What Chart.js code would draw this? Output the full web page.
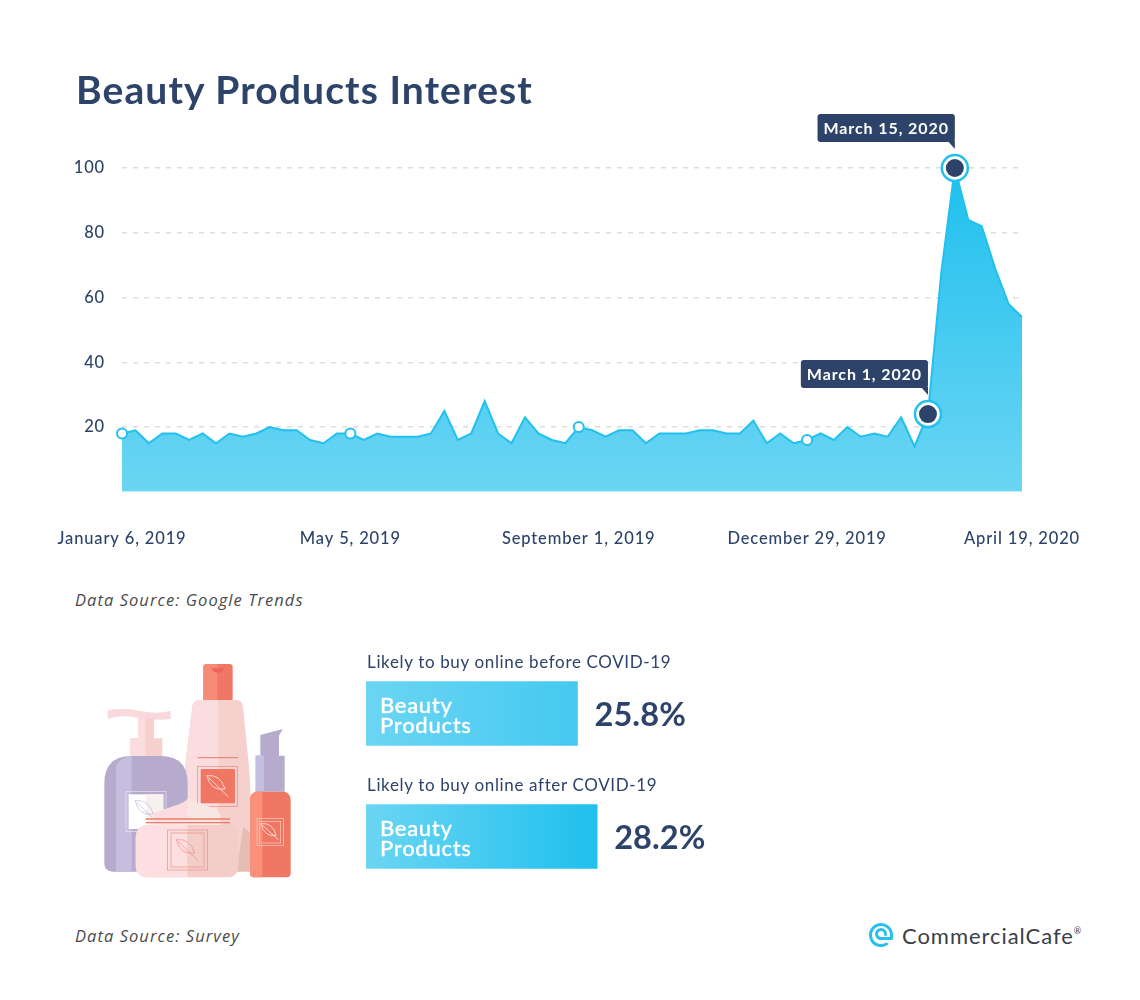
<!DOCTYPE html>
<html>
<head>
<meta charset="utf-8">
<title>Beauty Products Interest</title>
<script src="https://cdn.jsdelivr.net/npm/chart.js@4"></script>
<style>
  html, body { margin: 0; padding: 0; background: #fff; }
  #page { position: relative; width: 1140px; height: 1000px; overflow: hidden; font-family: Lato, sans-serif; color: #2d4369; }
  #page > * { position: absolute; }
  #trend-chart { left: 0; top: 0; }
  #bar-chart { left: 366px; top: 652px; }
  h1 { margin: 0; left: 76px; top: 64px; font-size: 39px; line-height: 50px; font-weight: 700; letter-spacing: 1.1px; white-space: nowrap; }
  .source { left: 75px; font-family: "Open Sans", sans-serif; font-size: 16.5px; line-height: 20px; font-style: italic; color: #4a4a4a; letter-spacing: 1.05px; white-space: nowrap; }
  .question { left: 367px; font-size: 17px; line-height: 20px; letter-spacing: 0.65px; white-space: nowrap; }
  .bar-name { left: 380px; font-size: 22px; line-height: 20.5px; font-weight: 500; color: #fff; letter-spacing: 0.7px; -webkit-text-stroke: 0.3px #fff; }
  .pct { font-size: 32.5px; line-height: 40px; font-weight: 700; letter-spacing: 0.1px; white-space: nowrap; }
  #logo-text { left: 902px; top: 922px; font-size: 22px; line-height: 28px; color: #3b3f47; letter-spacing: 0.95px; white-space: nowrap; }
  #logo-text sup { font-size: 9px; line-height: 0; vertical-align: 10px; }
</style>
</head>
<body>
<div id="page">
  <canvas id="trend-chart" width="1140" height="560"></canvas>
  <h1>Beauty Products Interest</h1>
  <div class="source" style="top:590px">Data Source: Google Trends</div>

  <!-- bottles -->
  <svg style="left:80px;top:650px" width="240" height="240" viewBox="0 0 720 720">
    <!-- tall bottle -->
    <path d="M370 52q0-10 10-10h68q10 0 10 10v100h-88z" fill="#f07764"/>
    <path d="M370 52q0-10 10-10h32v110h-42z" fill="#f58a77"/>
    <path d="M395 55h37q-4 13-18 13t-19-13z" fill="#ec6458"/>
    <path d="M358 150h112q16 0 19 20l18 180 18 310h-210v-310l22-180q3-20 21-20z" fill="#f5d0cc"/>
    <path d="M358 150h57v510h-110l10-310 22-180q3-20 21-20z" fill="#fbdcdf"/>
    <path d="M490 530l40 40v95h-60z" fill="#e5bcb4"/>
    <path d="M353 323h121" stroke="#ee7a68" stroke-width="3"/>
    <rect x="353" y="349" width="120" height="120" fill="none" stroke="#f0877a" stroke-width="2"/>
    <rect x="362" y="357" width="103" height="103" rx="3" fill="#f07764"/>
    <!-- pump bottle -->
    <path d="M83 180q50-8 100 3t89-1v25q-50 6-100-4t-89 4z" fill="#f9d9dc"/>
    <path d="M175 205h47v60h25v53h-97v-53h25z" fill="#f5d0cc"/>
    <path d="M175 205h22v113h-47v-53h25z" fill="#fbdcdf"/>
    <path d="M73 400q0-82 82-82h86q82 0 82 82v265h-225q-25 0-25-25z" fill="#b6abcc"/>
    <path d="M108 345q20-24 47-27v347h-47z" fill="#c5bede"/>
    <rect x="138" y="424" width="120" height="121" fill="none" stroke="#e9e6f0" stroke-width="2"/>
    <rect x="146" y="433" width="104" height="104" fill="#fff"/>
    <rect x="198" y="433" width="52" height="104" fill="#f6f1ee"/>
    <!-- jar -->
    <path d="M222 490q40-15 70-25t30-20q10 10 50 20t50 30v30h-200z" fill="#f8e6e3"/>
    <path d="M222 490q40-15 70-25t30-20v60h-100z" fill="#fbdcdf"/>
    <path d="M167 565q0-40 40-40h233q35 0 35 40v82q0 35-35 35h-233q-40 0-40-35z" fill="#f4cdc8"/>
    <path d="M167 565q0-40 40-40h115v157h-115q-40 0-40-35z" fill="#fddee1"/>
    <path d="M197 507h253M197 518h253" stroke="#ee7a68" stroke-width="4"/>
    <rect x="262" y="540" width="121" height="120" fill="none" stroke="#ec8d82" stroke-width="2"/>
    <rect x="273" y="549" width="99" height="102" fill="none" stroke="#ec8d82" stroke-width="2"/>
    <!-- small bottle -->
    <path d="M541 255l67-18-11 20v60h17v108h-87v-108h14z" fill="#b6abcc"/>
    <path d="M527 316h25v109h-25z" fill="#c5bede"/>
    <path d="M527 425h87q18 6 18 25v220q0 12-12 12h-98q-12 0-12-12v-220q0-19 17-25z" fill="#f07764"/>
    <path d="M527 425h20v257h-25q-12 0-12-12v-220q0-19 17-25z" fill="#f8907c"/>
    <rect x="531" y="506" width="79" height="81" fill="none" stroke="#fbcfc6" stroke-width="2"/>
    <rect x="539" y="514" width="63" height="65" fill="none" stroke="#fbcfc6" stroke-width="2"/>
    <!-- leaves -->
    <path d="M380 377q42-5 55 40-42 8-55-40zM385 382l60 58" fill="none" stroke="#fff" stroke-width="2"/>
    <path d="M165 452q42-5 55 40-42 8-55-40zM170 457l50 48" fill="none" stroke="#b9b4d6" stroke-width="2"/>
    <path d="M289 569q42-5 55 40-42 8-55-40zM294 574l60 58" fill="none" stroke="#ec8d82" stroke-width="2"/>
    <path d="M543 521q36-4 45 35-36 6-45-35zM548 526l48 44" fill="none" stroke="#fff" stroke-width="2"/>
  </svg>

  <canvas id="bar-chart" width="400" height="246"></canvas>
  <div class="source" style="top:926px">Data Source: Survey</div>

  <!-- logo -->
  <svg style="left:869px;top:923px" width="24" height="24" viewBox="0 0 24 24" fill="none" stroke="#29c0ee" stroke-width="3" stroke-linecap="round" stroke-linejoin="round">
    <path d="M17.5 21A10.5 10.5 0 1 1 22.5 12v3.5H12A4.5 4.5 0 1 1 16.5 11.5"/>
  </svg>
  <div id="logo-text">CommercialCafe<sup>®</sup></div>
</div>

<script>
/* ---------- data ---------- */
const weeks = [
  'January 6, 2019', 'January 13, 2019', 'January 20, 2019', 'January 27, 2019', 'February 3, 2019',
  'February 10, 2019', 'February 17, 2019', 'February 24, 2019', 'March 3, 2019', 'March 10, 2019',
  'March 17, 2019', 'March 24, 2019', 'March 31, 2019', 'April 7, 2019', 'April 14, 2019',
  'April 21, 2019', 'April 28, 2019', 'May 5, 2019', 'May 12, 2019', 'May 19, 2019',
  'May 26, 2019', 'June 2, 2019', 'June 9, 2019', 'June 16, 2019', 'June 23, 2019',
  'June 30, 2019', 'July 7, 2019', 'July 14, 2019', 'July 21, 2019', 'July 28, 2019',
  'August 4, 2019', 'August 11, 2019', 'August 18, 2019', 'August 25, 2019', 'September 1, 2019',
  'September 8, 2019', 'September 15, 2019', 'September 22, 2019', 'September 29, 2019', 'October 6, 2019',
  'October 13, 2019', 'October 20, 2019', 'October 27, 2019', 'November 3, 2019', 'November 10, 2019',
  'November 17, 2019', 'November 24, 2019', 'December 1, 2019', 'December 8, 2019', 'December 15, 2019',
  'December 22, 2019', 'December 29, 2019', 'January 5, 2020', 'January 12, 2020', 'January 19, 2020',
  'January 26, 2020', 'February 2, 2020', 'February 9, 2020', 'February 16, 2020', 'February 23, 2020',
  'March 1, 2020', 'March 8, 2020', 'March 15, 2020', 'March 22, 2020', 'March 29, 2020',
  'April 5, 2020', 'April 12, 2020', 'April 19, 2020'
];
const interest = [
  18, 19, 15, 18, 18, 16, 18, 15, 18, 17,
  18, 20, 19, 19, 16, 15, 18, 18, 16, 18,
  17, 17, 17, 18, 25, 16, 18, 28, 18, 15,
  23, 18, 16, 15, 20, 19, 17, 19, 19, 15,
  18, 18, 18, 19, 19, 18, 18, 22, 15, 18,
  15, 16, 18, 16, 20, 17, 18, 17, 23, 14,
  24, 68, 100, 84, 82, 69, 58, 54
];
const tickWeeks = ['January 6, 2019', 'May 5, 2019', 'September 1, 2019', 'December 29, 2019', 'April 19, 2020'];
const openMarkers = ['January 6, 2019', 'May 5, 2019', 'September 1, 2019', 'December 29, 2019'];
const calloutWeeks = ['March 1, 2020', 'March 15, 2020'];

const barNames = ['Likely to buy online before COVID-19', 'Likely to buy online after COVID-19'];
const barValues = [25.8, 28.2];
const barEndColors = ['#45c9f1', '#1fc0ee'];

/* ---------- helpers ---------- */
const NAVY = '#2d4369';
const CYAN = '#22c0ee';
const FONT = 'Lato, sans-serif';

function areaFill(context) {
  const { ctx, chartArea } = context.chart;
  if (!chartArea) return '#4ac9f1';
  const grad = ctx.createLinearGradient(0, chartArea.top, 0, chartArea.bottom);
  grad.addColorStop(0, '#1fc0ee');
  grad.addColorStop(1, '#6bd5f3');
  return grad;
}

function barFill(context) {
  const { ctx, chartArea, scales } = context.chart;
  if (!chartArea) return '#4ac9f1';
  const i = context.dataIndex;
  const grad = ctx.createLinearGradient(0, 0, scales.x.getPixelForValue(barValues[i]), 0);
  grad.addColorStop(0, '#6bd5f3');
  grad.addColorStop(1, barEndColors[i]);
  return grad;
}

function markerRadius(context) {
  const week = weeks[context.dataIndex];
  if (calloutWeeks.includes(week)) return 13;
  return openMarkers.includes(week) ? 5 : 0;
}

/* letter spacing for the axis labels, the canvas keeps it for the whole draw */
const spacingPlugin = {
  id: 'spacing',
  beforeDraw(chart) { chart.ctx.letterSpacing = '0.85px'; }
};

/* small navy flag above the two highlighted weeks */
const calloutPlugin = {
  id: 'callouts',
  afterDatasetsDraw(chart) {
    const { ctx, scales } = chart;
    ctx.save();
    ctx.font = `700 16px ${FONT}`;
    ctx.letterSpacing = '0.9px';
    ctx.textBaseline = 'middle';
    calloutWeeks.forEach(week => {
      const i = weeks.indexOf(week);
      const px = scales.x.getPixelForValue(i);
      const py = scales.y.getPixelForValue(interest[i]);
      const w = ctx.measureText(week).width + 12;
      const h = 28;
      const bottom = py - 26;
      ctx.fillStyle = NAVY;
      ctx.beginPath();
      ctx.roundRect(px - w, bottom - h, w, h, 3);
      ctx.fill();
      ctx.beginPath();
      ctx.moveTo(px - 7, bottom - 1);
      ctx.lineTo(px, bottom - 1);
      ctx.lineTo(px, bottom + 7);
      ctx.closePath();
      ctx.fill();
      ctx.fillStyle = '#fff';
      ctx.textAlign = 'left';
      ctx.fillText(week, px - w + 6, bottom - h / 2 + 0.5);
    });
    ctx.restore();
  }
};

/* ---------- trend chart ---------- */
new Chart(document.getElementById('trend-chart'), {
  type: 'line',
  data: {
    labels: weeks,
    datasets: [
      {
        data: weeks.map((w, i) => calloutWeeks.includes(w) ? interest[i] : null),
        order: 0,
        showLine: false,
        pointRadius: 9,
        pointBackgroundColor: NAVY,
        pointBorderWidth: 0,
        clip: false
      },
      {
        data: interest,
        order: 1,
        fill: 'origin',
        backgroundColor: areaFill,
        borderColor: CYAN,
        borderWidth: 2,
        tension: 0,
        pointRadius: markerRadius,
        pointBackgroundColor: '#fff',
        pointBorderColor: CYAN,
        pointBorderWidth: c => calloutWeeks.includes(weeks[c.dataIndex]) ? 2.5 : 2,
        clip: false
      }
    ]
  },
  options: {
    responsive: false,
    animation: false,
    layout: { padding: { top: 168, right: 118, left: 0, bottom: 0 } },
    plugins: { legend: { display: false }, tooltip: { enabled: false } },
    scales: {
      x: {
        offset: false,
        border: { display: false },
        grid: { display: false },
        afterFit(s) { s.height = 68.25; s.paddingLeft = 0; s.paddingRight = 0; },
        ticks: {
          autoSkip: false,
          maxRotation: 0,
          padding: 29,
          color: NAVY,
          font: { family: FONT, size: 16.5, weight: '500' },
          callback(value) {
            const week = weeks[value];
            return tickWeeks.includes(week) ? week : null;
          }
        }
      },
      y: {
        min: 0,
        max: 100,
        border: { display: false, dash: [5, 6] },
        grid: {
          drawTicks: false,
          color: c => c.tick.value === 0 ? 'transparent' : '#dddddd',
          lineWidth: 1.5
        },
        afterFit(s) { s.width = 122; s.paddingTop = 0; s.paddingBottom = 0; },
        ticks: {
          stepSize: 20,
          padding: 17,
          color: NAVY,
          font: { family: FONT, size: 16.5, weight: '500' },
          callback: value => value === 0 ? '' : value
        }
      }
    }
  },
  plugins: [spacingPlugin, calloutPlugin]
});

/* ---------- survey bars ---------- */
const barChart = new Chart(document.getElementById('bar-chart'), {
  type: 'bar',
  data: {
    labels: barNames,
    datasets: [{ data: barValues, backgroundColor: barFill, barThickness: 64 }]
  },
  options: {
    responsive: false,
    animation: false,
    indexAxis: 'y',
    plugins: { legend: { display: false }, tooltip: { enabled: false } },
    scales: {
      x: { display: false, min: 0, max: 48.8 },
      y: { display: false }
    }
  }
});

// texts around the bars, placed from the chart's own scales
const page = document.getElementById('page');
function addText(cls, html, left, top) {
  const el = document.createElement('div');
  el.className = cls;
  el.innerHTML = html;
  if (left !== null) el.style.left = left + 'px';
  el.style.top = top + 'px';
  page.appendChild(el);
}
const canvasTop = 652;
barNames.forEach((name, i) => {
  const mid = canvasTop + barChart.scales.y.getPixelForValue(i);
  const end = 366 + barChart.scales.x.getPixelForValue(barValues[i]);
  addText('question', name, null, mid - 62);
  addText('bar-name', 'Beauty<br>Products', null, mid - 19);
  addText('pct', barValues[i].toFixed(1) + '%', end + 17, mid - 20);
});
</script>
</body>
</html>
